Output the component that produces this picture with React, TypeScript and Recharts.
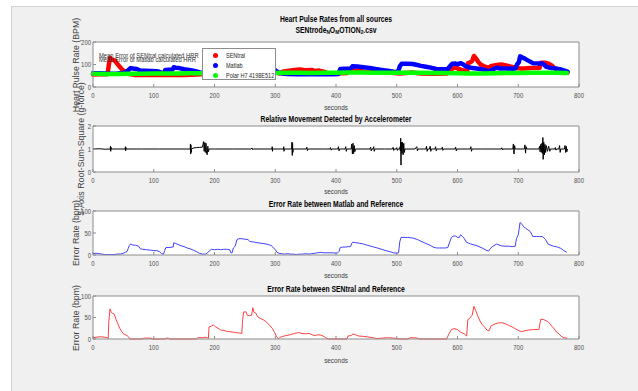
import React from 'react';
import { ComposedChart, Line, XAxis, YAxis, CartesianGrid, Legend } from 'recharts';

const FONT = '"Liberation Sans", Arial, Helvetica, sans-serif';
const W = 638;
const H = 391;
const AX = '#8c8c8c';

// ---------- axes / categories ----------
const X_TICKS = [0, 100, 200, 300, 400, 500, 600, 700, 800];
const HR_TICKS = [0, 100, 200];
const ACC_TICKS = [0, 1, 2];
const ERR_TICKS = [0, 50, 100];
const SERIES_NAMES = ['SENtral', 'Matlab', 'Polar H7 4198E512'];

// ---------- panel 1: heart rates (seconds, BPM) ----------
const polarHR: [number, number][] = [
  [0, 59], [20, 58], [40, 58], [60, 59], [80, 59], [100, 60], [120, 60], [140, 60], [160, 61], [180, 61],
  [200, 60], [220, 61], [240, 61], [260, 62], [280, 62], [300, 62], [320, 63], [340, 63], [360, 62], [380, 63],
  [400, 63], [420, 64], [440, 64], [460, 63], [480, 63], [500, 63], [520, 63], [540, 63], [560, 62], [580, 62],
  [600, 61], [620, 60], [640, 60], [660, 61], [680, 62], [700, 62], [720, 63], [740, 63], [760, 63], [780, 62],
];

const matlabHR: [number, number][] = [
  [0, 61], [10, 61], [20, 60], [30, 59], [40, 60], [50, 62], [54, 66], [58, 74], [60, 80], [62, 84], [66, 82],
  [72, 80], [78, 73], [85, 72], [95, 71], [105, 70], [110, 67], [114, 62], [117, 62], [119, 76], [125, 77],
  [131, 78], [133, 88], [136, 86], [142, 84], [150, 79], [158, 76], [165, 72], [172, 68], [178, 63], [183, 62],
  [188, 64], [193, 72], [198, 74], [210, 73], [220, 74], [226, 72], [228, 66], [231, 77], [234, 81], [237, 97],
  [245, 98], [252, 97], [258, 93], [265, 91], [275, 89], [285, 87], [292, 84], [297, 78], [301, 72], [305, 65],
  [310, 60], [320, 58], [335, 57], [350, 57], [365, 57], [380, 57], [395, 57], [404, 58], [407, 80], [415, 81],
  [424, 82], [427, 92], [435, 91], [445, 88], [455, 85], [465, 80], [475, 76], [485, 72], [495, 68], [502, 66],
  [505, 92], [508, 103], [518, 103], [526, 102], [532, 99], [540, 94], [548, 90], [556, 86], [565, 80],
  [575, 79], [584, 80], [587, 90], [591, 103], [597, 104], [601, 101], [605, 106], [609, 101], [613, 93],
  [618, 88], [625, 84], [635, 81], [645, 76], [650, 70], [654, 73], [658, 78], [664, 86], [670, 82], [680, 82],
  [690, 81], [695, 82], [698, 100], [701, 110], [703, 136], [707, 131], [712, 124], [718, 115], [724, 106],
  [732, 105], [740, 105], [746, 90], [750, 87], [756, 84], [764, 81], [770, 78], [776, 73], [781, 68],
];

const sentralHR: [number, number][] = [
  [0, 56], [10, 57], [20, 57], [24, 57], [26, 98], [28, 130], [30, 123], [33, 120], [36, 117], [40, 103],
  [44, 90], [48, 78], [52, 70], [56, 64], [60, 58], [70, 53], [90, 54], [110, 53], [130, 54], [150, 53],
  [170, 55], [185, 58], [190, 62], [191, 88], [198, 94], [205, 86], [215, 81], [225, 78], [235, 76], [245, 74],
  [246, 100], [249, 125], [253, 125], [256, 115], [261, 117], [263, 135], [266, 123], [270, 115], [278, 108],
  [285, 102], [292, 95], [298, 78], [302, 68], [306, 60], [312, 68], [320, 71], [332, 76], [340, 78], [350, 75],
  [360, 76], [366, 71], [372, 73], [380, 68], [388, 60], [400, 60], [418, 62], [421, 70], [428, 76], [435, 72],
  [445, 69], [455, 67], [470, 64], [490, 63], [505, 60], [525, 64], [540, 60], [560, 59], [582, 60], [588, 75],
  [594, 86], [600, 83], [606, 76], [612, 72], [616, 67], [617, 105], [621, 110], [624, 115], [627, 138],
  [631, 125], [634, 112], [638, 100], [643, 93], [649, 87], [652, 87], [656, 94], [665, 98], [672, 100],
  [680, 96], [688, 90], [695, 86], [702, 82], [710, 82], [720, 84], [735, 85], [737, 108], [744, 108],
  [750, 104], [755, 96], [759, 85], [764, 76], [770, 68], [776, 65], [781, 63],
];

// ---------- panel 2: accelerometer RSS (seconds, g) ----------
const accelRSS: [number, number][] = [
  [0, 1.0], [10, 1.01], [20, 0.99], [28.4, 1.0], [28.8, 1.12], [29.2, 0.9], [29.6, 1.08], [30, 1.0],
  [40, 1.0], [53, 1.0], [53.4, 1.1], [53.8, 0.92], [54.2, 1.06], [54.6, 1.0],
  [80, 1.0], [110, 1.0], [140, 1.0],
  [160, 1.0], [160.4, 1.22], [160.8, 0.78], [161.2, 1.18], [161.6, 0.85], [162, 1.0],
  [166, 1.05], [170, 1.06], [175, 1.07], [180, 1.08], [181, 1.2], [182, 1.32], [183, 0.9], [184, 1.28],
  [185, 0.85], [186, 1.25], [187, 0.8], [188, 0.75], [189, 1.12], [190, 0.88], [191, 1.0],
  [200, 1.0], [230, 1.0], [260, 1.0], [262, 1.04], [263, 0.97], [264, 1.0],
  [294.6, 1.0], [295, 1.1], [295.4, 0.9], [295.8, 1.0],
  [313.6, 1.0], [314, 1.1], [314.4, 0.9], [314.8, 1.0],
  [327, 1.0], [327.5, 1.3], [328, 0.72], [328.5, 1.25], [329, 0.85], [329.5, 1.0],
  [351, 1.0], [352, 1.08], [353, 0.93], [354, 1.0],
  [372, 1.0], [380, 1.0], [390, 1.0], [391, 1.06], [392, 0.95], [393, 1.0],
  [403, 1.0], [404, 1.1], [405, 0.92], [406, 1.0],
  [415, 1.0], [416, 1.1], [417, 0.9], [418, 1.0],
  [425, 1.0], [426, 1.22], [427, 0.78], [428, 1.25], [429, 0.8], [430, 1.15], [431, 0.88], [432, 1.0],
  [456, 1.0], [457, 1.08], [458, 0.92], [459, 1.0], [461, 1.0], [462, 1.1], [463, 0.9], [464, 1.0],
  [480, 1.0], [493, 1.0], [494, 1.07], [495, 0.94], [496, 1.0], [499, 1.0], [500, 1.06], [501, 0.94], [502, 1.0],
  [505, 1.0], [505.5, 1.1], [506, 0.92], [506.5, 1.47], [507, 0.3], [507.5, 1.3], [508.5, 0.8], [509.5, 1.3],
  [510.5, 0.75], [511.5, 1.25], [512.5, 0.85], [513.5, 1.0],
  [530, 1.0], [533, 1.1], [534, 0.92], [535, 1.0],
  [548, 1.0], [549, 1.12], [550, 0.9], [551, 1.0], [554, 1.0], [555, 1.12], [556, 0.9], [557, 1.0],
  [563, 1.0], [564, 1.1], [565, 0.92], [566, 1.0],
  [574, 1.0], [575, 1.08], [576, 0.94], [577, 1.0],
  [596, 1.0], [597, 1.08], [598, 0.92], [599, 1.0],
  [621, 1.0], [622, 1.1], [623, 0.9], [624, 1.0],
  [640, 1.0], [660, 1.0], [672, 1.0], [673, 1.05], [674, 0.96], [675, 1.0],
  [691, 1.0], [692, 1.22], [693, 0.78], [694, 1.15], [695, 1.0],
  [710, 1.0], [711, 1.18], [712, 0.82], [713, 1.1], [714, 1.0],
  [734, 1.0], [735, 1.12], [736, 0.88], [737, 1.2], [738, 0.85], [739, 1.25], [740, 0.8], [740.5, 1.5],
  [741, 0.55], [742, 1.3], [743, 0.75], [744, 1.2], [745, 0.85], [746, 1.15], [748, 0.9], [750, 1.12],
  [752, 0.9], [753, 1.0],
  [760, 1.0], [761, 1.06], [762, 0.95], [763, 1.0],
  [767, 1.0], [768, 1.15], [769, 0.85], [770, 1.0], [776, 1.0], [777, 1.15], [778, 0.85], [779, 1.12],
  [780, 0.88], [781, 1.0],
];

// ---------- panel 3: error Matlab vs reference (seconds, bpm) ----------
const matlabErr: [number, number][] = [
  [0, 3], [5, 4], [10, 3], [15, 2], [20, 1], [25, 1], [30, 1], [35, 1], [40, 2], [45, 2], [50, 4], [53, 6],
  [56, 8], [58, 15], [60, 22], [62, 25], [65, 23], [70, 22], [75, 20], [78, 14], [82, 13], [88, 12], [95, 11],
  [100, 10], [105, 10], [110, 7], [113, 3], [116, 2], [118, 10], [120, 17], [125, 17], [130, 18], [132, 18],
  [133, 28], [136, 26], [140, 24], [145, 21], [150, 19], [155, 16], [160, 14], [165, 11], [170, 8], [175, 4],
  [180, 2], [185, 2], [188, 4], [192, 10], [195, 13], [200, 12], [205, 13], [210, 12], [215, 13], [220, 13],
  [225, 12], [227, 5], [229, 5], [231, 16], [234, 20], [237, 35], [240, 37], [245, 37], [250, 36], [255, 35],
  [258, 31], [262, 30], [266, 29], [270, 28], [275, 27], [280, 26], [285, 25], [290, 23], [293, 22], [296, 18],
  [300, 12], [303, 6], [306, 4], [310, 3], [315, 2], [320, 3], [325, 2], [330, 2], [335, 1], [340, 2], [345, 2],
  [350, 3], [355, 2], [360, 3], [365, 4], [370, 5], [375, 6], [380, 5], [385, 5], [390, 5], [395, 5], [400, 4],
  [403, 5], [405, 8], [407, 17], [410, 18], [415, 18], [420, 19], [424, 19], [426, 27], [428, 29], [432, 28],
  [438, 27], [445, 25], [452, 22], [460, 19], [468, 16], [475, 13], [482, 10], [490, 7], [495, 5], [500, 4],
  [503, 5], [505, 30], [507, 40], [512, 40], [518, 40], [524, 39], [528, 38], [532, 36], [536, 34], [540, 31],
  [545, 28], [550, 25], [555, 22], [560, 18], [565, 16], [570, 16], [575, 16], [580, 16], [584, 17], [586, 25],
  [590, 40], [593, 43], [597, 43], [600, 40], [603, 40], [605, 46], [608, 42], [611, 38], [614, 30], [618, 27],
  [622, 25], [627, 23], [632, 21], [637, 18], [642, 15], [647, 11], [651, 9], [654, 14], [657, 19], [660, 21],
  [664, 25], [668, 23], [672, 21], [678, 20], [685, 20], [690, 19], [695, 20], [697, 37], [700, 46], [703, 74],
  [706, 70], [709, 64], [712, 61], [716, 57], [720, 53], [724, 42], [730, 42], [735, 42], [740, 42], [745, 35],
  [749, 25], [752, 23], [758, 20], [765, 18], [770, 15], [775, 10], [780, 6],
];

// ---------- panel 4: error SENtral vs reference (seconds, bpm) ----------
const sentralErr: [number, number][] = [
  [0, 3], [5, 4], [10, 5], [15, 5], [20, 4], [24, 3], [25, 1], [26, 40], [28, 70], [30, 62], [32, 60], [35, 58],
  [38, 45], [41, 35], [44, 25], [47, 18], [50, 12], [53, 10], [56, 8], [59, 4], [61, 0], [80, 0], [85, 2],
  [95, 2], [98, 0], [118, 0], [121, 2], [124, 2], [126, 0], [170, 0], [172, 3], [180, 3], [185, 4], [188, 3],
  [190, 2], [191, 28], [195, 30], [198, 33], [202, 28], [206, 25], [210, 21], [215, 20], [220, 18], [225, 17],
  [230, 16], [235, 15], [240, 14], [245, 13], [246, 40], [248, 63], [252, 63], [254, 55], [258, 54], [261, 55],
  [263, 73], [265, 62], [268, 60], [271, 52], [275, 48], [280, 45], [285, 40], [290, 33], [295, 25], [299, 15],
  [302, 6], [304, 2], [306, 1], [308, 4], [312, 6], [318, 8], [325, 10], [332, 13], [338, 15], [344, 13],
  [350, 12], [356, 13], [362, 9], [366, 8], [370, 10], [375, 9], [380, 6], [384, 2], [388, 0], [418, 0],
  [420, 7], [425, 8], [428, 12], [432, 10], [437, 7], [445, 6], [452, 5], [460, 3], [468, 1], [475, 2], [485, 3],
  [495, 2], [500, 1], [505, 0], [518, 0], [522, 3], [528, 3], [534, 2], [538, 0], [582, 0], [586, 12], [590, 22],
  [594, 24], [600, 22], [605, 16], [611, 12], [615, 7], [617, 45], [620, 48], [624, 55], [627, 76], [630, 66],
  [633, 55], [637, 42], [641, 33], [645, 27], [649, 20], [652, 19], [655, 30], [660, 34], [666, 37], [672, 38],
  [678, 36], [684, 32], [690, 28], [695, 24], [700, 20], [705, 17], [710, 19], [718, 21], [725, 22], [734, 22],
  [737, 46], [742, 45], [748, 41], [752, 36], [755, 30], [759, 24], [763, 16], [767, 12], [771, 6], [775, 3],
  [781, 2],
];

const pts = (arr: [number, number][]) => arr.map(([t, v]) => ({ t, v }));

// ---------- small helpers ----------
const XTick = (p: any) => (
  <text
    transform={`translate(${p.x},${p.y}) scale(0.85,1)`}
    textAnchor="middle"
    dominantBaseline="central"
    fontSize={7}
    fill="#4d4d4d"
    fontFamily={FONT}
  >
    {p.payload.value}
  </text>
);

const YTick = (p: any) => (
  <text
    transform={`translate(${p.x},${p.y}) scale(0.85,1)`}
    textAnchor="end"
    dominantBaseline="central"
    fontSize={7}
    fill="#4d4d4d"
    fontFamily={FONT}
  >
    {p.payload.value}
  </text>
);

const NoTick = () => <g />;

const Txt = ({ x, y, size, bold, color = '#262626', sx = 1, rot = 0, anchor = 'middle', children }: any) => {
  const tx = anchor === 'middle' ? '-50%' : anchor === 'end' ? '-100%' : '0';
  return (
    <div
      style={{
        position: 'absolute',
        left: x,
        top: y,
        transform: `translate(${tx},-50%) rotate(${rot}deg) scaleX(${sx})`,
        transformOrigin: anchor === 'start' ? 'left center' : 'center center',
        fontFamily: FONT,
        fontSize: size,
        fontWeight: bold ? 'bold' : 'normal',
        color,
        whiteSpace: 'nowrap',
        lineHeight: 1,
        zIndex: 2,
      }}
    >
      {children}
    </div>
  );
};

const LegendBox = (props: any) => {
  const items = [...(props.payload || [])].sort(
    (a: any, b: any) => SERIES_NAMES.indexOf(a.value) - SERIES_NAMES.indexOf(b.value)
  );
  return (
    <div
      style={{
        width: 74,
        height: 32,
        boxSizing: 'border-box',
        border: `1px solid ${AX}`,
        background: '#ffffff',
        fontFamily: FONT,
        paddingTop: 1,
      }}
    >
      {items.map((e: any) => (
        <div key={e.value} style={{ display: 'flex', alignItems: 'center', height: 10 }}>
          <span
            style={{
              display: 'inline-block',
              width: 5,
              height: 5,
              borderRadius: '50%',
              background: e.color,
              marginLeft: 10,
              marginRight: 8,
              flex: 'none',
            }}
          />
          <span
            style={{
              fontSize: 6.5,
              color: '#262626',
              whiteSpace: 'nowrap',
              display: 'inline-block',
              transform: 'scaleX(0.85)',
              transformOrigin: 'left center',
            }}
          >
            {e.value}
          </span>
        </div>
      ))}
    </div>
  );
};

const Panel = ({ top, bottom, yDomain, yTicks, children }: any) => (
  <div style={{ position: 'absolute', left: 0, top: 0 }}>
    <ComposedChart
      width={W}
      height={H}
      margin={{ top: top - 5, right: 54, bottom: H - bottom - 20, left: 63 }}
    >
      <CartesianGrid xAxisId="b" yAxisId="l" horizontal={false} vertical={false} fill="#ffffff" />
      <XAxis
        xAxisId="b"
        type="number"
        dataKey="t"
        domain={[0, 800]}
        ticks={X_TICKS}
        interval={0}
        height={20}
        tickSize={-3}
        tickMargin={11}
        tick={XTick}
        stroke={AX}
      />
      <XAxis
        xAxisId="top"
        orientation="top"
        type="number"
        dataKey="t"
        domain={[0, 800]}
        ticks={X_TICKS}
        interval={0}
        height={5}
        tickSize={-3}
        tick={NoTick}
        stroke={AX}
      />
      <YAxis
        yAxisId="l"
        type="number"
        domain={yDomain}
        ticks={yTicks}
        interval={0}
        width={30}
        tickSize={-3}
        tickMargin={5}
        tick={YTick}
        stroke={AX}
      />
      <YAxis
        yAxisId="r"
        orientation="right"
        type="number"
        domain={yDomain}
        ticks={yTicks}
        interval={0}
        width={5}
        tickSize={-3}
        tick={NoTick}
        stroke={AX}
      />
      {children}
    </ComposedChart>
  </div>
);

export default function App() {
  return (
    <div style={{ position: 'absolute', left: 0, top: 0, width: W, height: H, background: '#ffffff', overflow: 'hidden' }}>
      <div
        style={{
          position: 'absolute',
          left: 11,
          top: 6,
          width: W - 11,
          height: H - 6,
          background: '#f0f0f0',
          borderTop: '1px solid #d2d2d2',
          borderLeft: '1px solid #d2d2d2',
        }}
      />

      {/* Panel 1 */}
      <Panel top={42} bottom={87} yDomain={[0, 200]} yTicks={HR_TICKS}>
        <Line xAxisId="b" yAxisId="l" name={SERIES_NAMES[0]} data={pts(sentralHR)} dataKey="v" stroke="#ff0000" strokeWidth={4.5} strokeLinecap="round" strokeLinejoin="round" dot={false} activeDot={false} isAnimationActive={false} />
        <Line xAxisId="b" yAxisId="l" name={SERIES_NAMES[1]} data={pts(matlabHR)} dataKey="v" stroke="#0000ff" strokeWidth={4.5} strokeLinecap="round" strokeLinejoin="round" dot={false} activeDot={false} isAnimationActive={false} />
        <Line xAxisId="b" yAxisId="l" name={SERIES_NAMES[2]} data={pts(polarHR)} dataKey="v" stroke="#00ff00" strokeWidth={4.5} strokeLinecap="round" strokeLinejoin="round" dot={false} activeDot={false} isAnimationActive={false} />
        <Legend
          layout="vertical"
          align="center"
          verticalAlign="middle"
          content={LegendBox}
          wrapperStyle={{ position: 'absolute', left: 202, top: 48, width: 74, height: 32, zIndex: 5 }}
        />
      </Panel>

      {/* Panel 2 */}
      <Panel top={126} bottom={172} yDomain={[0, 2]} yTicks={ACC_TICKS}>
        <Line xAxisId="b" yAxisId="l" name="accel" data={pts(accelRSS)} dataKey="v" stroke="#000000" strokeWidth={1} dot={false} activeDot={false} isAnimationActive={false} />
      </Panel>

      {/* Panel 3 */}
      <Panel top={211} bottom={255} yDomain={[0, 100]} yTicks={ERR_TICKS}>
        <Line xAxisId="b" yAxisId="l" name="matlabErr" data={pts(matlabErr)} dataKey="v" stroke="#4040ff" strokeWidth={1} dot={false} activeDot={false} isAnimationActive={false} />
      </Panel>

      {/* Panel 4 */}
      <Panel top={296} bottom={339} yDomain={[0, 100]} yTicks={ERR_TICKS}>
        <Line xAxisId="b" yAxisId="l" name="sentralErr" data={pts(sentralErr)} dataKey="v" stroke="#ff4040" strokeWidth={1} dot={false} activeDot={false} isAnimationActive={false} />
      </Panel>

      {/* Titles */}
      <Txt x={336} y={19} size={8.5} bold sx={0.8} color="#000">Heart Pulse Rates from all sources</Txt>
      <Txt x={336} y={30.5} size={8.5} bold sx={0.8} color="#000">
        SENtrode<sub style={{ fontSize: '0.7em', verticalAlign: '-0.3em' }}>N</sub>O
        <sub style={{ fontSize: '0.7em', verticalAlign: '-0.3em' }}>M</sub>OTION
        <sub style={{ fontSize: '0.7em', verticalAlign: '-0.3em' }}>2</sub>.csv
      </Txt>
      <Txt x={336} y={119} size={8.5} bold sx={0.8} color="#000">Relative Movement Detected by Accelerometer</Txt>
      <Txt x={336} y={203.5} size={8.5} bold sx={0.8} color="#000">Error Rate between Matlab and Reference</Txt>
      <Txt x={336} y={288.5} size={8.5} bold sx={0.8} color="#000">Error Rate between SENtral and Reference</Txt>

      {/* x labels */}
      <Txt x={336} y={107.5} size={7.5} sx={0.85} color="#404040">seconds</Txt>
      <Txt x={336} y={192} size={7.5} sx={0.85} color="#404040">seconds</Txt>
      <Txt x={336} y={276} size={7.5} sx={0.85} color="#404040">seconds</Txt>
      <Txt x={336} y={361} size={7.5} sx={0.85} color="#404040">seconds</Txt>

      {/* y labels */}
      <Txt x={76} y={64.5} size={8.8} rot={-90} color="#404040">Heart Pulse Rate (BPM)</Txt>
      <Txt x={80.5} y={149} size={8.8} rot={-90} color="#404040">3-Axis Root-Sum-Square (g-force)</Txt>
      <Txt x={76} y={233} size={8.8} rot={-90} color="#404040">Error Rate (bpm)</Txt>
      <Txt x={76} y={317.5} size={8.8} rot={-90} color="#404040">Error Rate (bpm)</Txt>

      {/* annotation text in panel 1 (partly hidden by legend, overlapping as in the original) */}
      <Txt x={99} y={55.5} size={7.3} sx={0.8} anchor="start" color="#333">Mean Error of SENtral calculated HRR</Txt>
      <Txt x={99} y={59.5} size={7.3} sx={0.8} anchor="start" color="#333">Mean Error of Matlab calculated HRR</Txt>
    </div>
  );
}
